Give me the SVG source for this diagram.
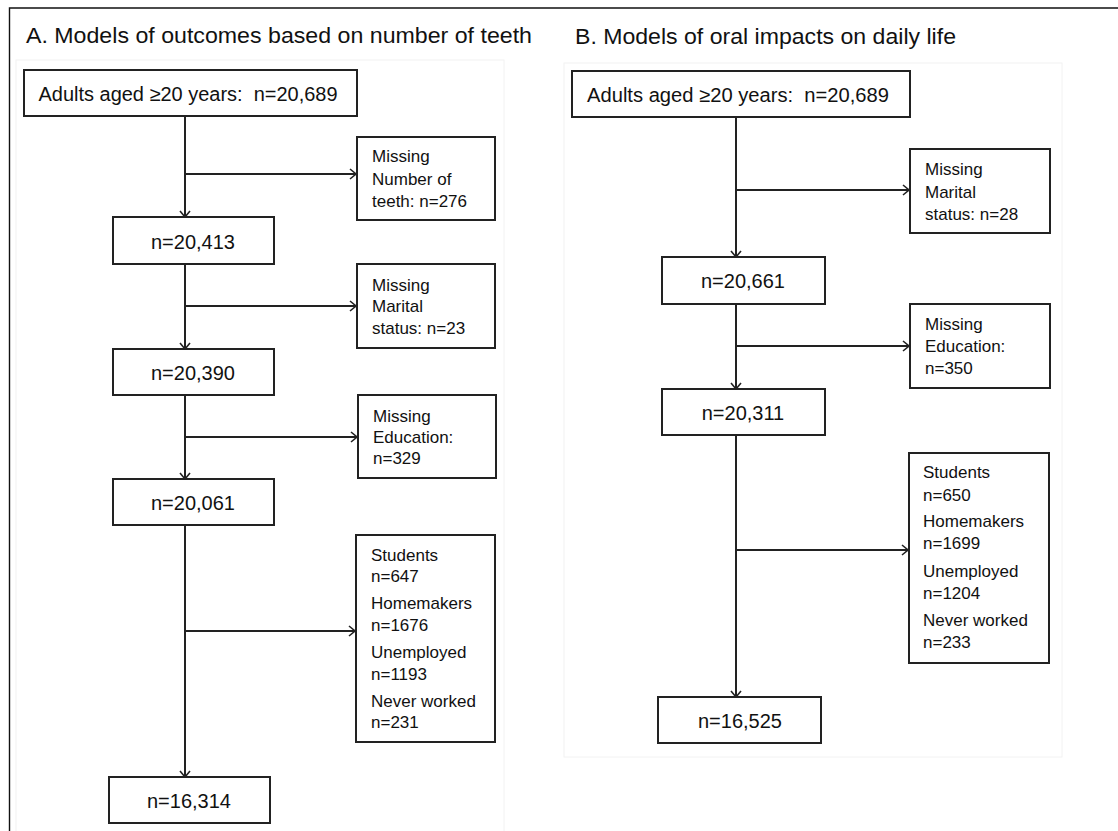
<svg xmlns="http://www.w3.org/2000/svg" width="1118" height="831" viewBox="0 0 1118 831">
<style>
text{font-family:"Liberation Sans",Arial,sans-serif;fill:#111}
.title{font-size:22px}
.big{font-size:20px}
.mid{font-size:20px;text-anchor:middle}
.sm{font-size:17px}
.box{fill:#fff;stroke:#222;stroke-width:2}
.edge{fill:none;stroke:#222;stroke-width:2}
.panel{fill:#fff;stroke:#f2f2f2;stroke-width:1}
</style>
<defs>
<marker id="arr" viewBox="-8 -6 9 12" refX="0" refY="0" markerWidth="9" markerHeight="12" markerUnits="userSpaceOnUse" orient="auto">
<path d="M-6,-5 L0,0 L-6,5" fill="none" stroke="#222" stroke-width="1.6"/>
</marker>
</defs>
<rect width="1118" height="831" fill="#fff"/>
<path d="M9.5,831 V8 H1118" fill="none" stroke="#111" stroke-width="1.4"/>
<rect class="panel" x="16" y="60" width="488" height="780"/>
<rect class="panel" x="564" y="63" width="498" height="694"/>
<text class="title" x="26" y="43" textLength="506" lengthAdjust="spacingAndGlyphs">A. Models of outcomes based on number of teeth</text>
<text class="title" x="575" y="44" textLength="381" lengthAdjust="spacingAndGlyphs">B. Models of oral impacts on daily life</text>

<g id="connectors">
<line class="edge" x1="185" y1="116" x2="185" y2="217" marker-end="url(#arr)"/>
<line class="edge" x1="185" y1="174" x2="356" y2="174" marker-end="url(#arr)"/>
<line class="edge" x1="185" y1="264" x2="185" y2="349" marker-end="url(#arr)"/>
<line class="edge" x1="185" y1="306" x2="356" y2="306" marker-end="url(#arr)"/>
<line class="edge" x1="185" y1="395" x2="185" y2="479" marker-end="url(#arr)"/>
<line class="edge" x1="185" y1="437" x2="357" y2="437" marker-end="url(#arr)"/>
<line class="edge" x1="185" y1="525" x2="185" y2="777" marker-end="url(#arr)"/>
<line class="edge" x1="185" y1="631" x2="355" y2="631" marker-end="url(#arr)"/>
<line class="edge" x1="736" y1="117" x2="736" y2="257" marker-end="url(#arr)"/>
<line class="edge" x1="736" y1="190" x2="909" y2="190" marker-end="url(#arr)"/>
<line class="edge" x1="736" y1="304" x2="736" y2="389" marker-end="url(#arr)"/>
<line class="edge" x1="736" y1="346" x2="909" y2="346" marker-end="url(#arr)"/>
<line class="edge" x1="736" y1="435" x2="736" y2="697" marker-end="url(#arr)"/>
<line class="edge" x1="736" y1="550" x2="908" y2="550" marker-end="url(#arr)"/>
</g>

<g id="a1"><rect class="box" x="24" y="70" width="333" height="46"/><text class="big" x="38.5" y="100.5" textLength="299" lengthAdjust="spacingAndGlyphs">Adults aged ≥20 years: &#160;n=20,689</text></g>
<g id="a_miss_teeth"><rect class="box" x="357" y="137" width="138" height="83"/><text class="sm" x="372" y="162">Missing</text><text class="sm" x="372" y="185">Number of</text><text class="sm" x="372" y="207">teeth: n=276</text></g>
<g id="a2"><rect class="box" x="113" y="217" width="161" height="47"/><text class="mid" x="193" y="249">n=20,413</text></g>
<g id="a_miss_marital"><rect class="box" x="357" y="264" width="138" height="84"/><text class="sm" x="372" y="291">Missing</text><text class="sm" x="372" y="312">Marital</text><text class="sm" x="372" y="334">status: n=23</text></g>
<g id="a3"><rect class="box" x="113" y="349" width="161" height="46"/><text class="mid" x="193" y="380">n=20,390</text></g>
<g id="a_miss_edu"><rect class="box" x="358" y="395" width="138" height="83"/><text class="sm" x="373" y="422">Missing</text><text class="sm" x="373" y="443">Education:</text><text class="sm" x="373" y="464">n=329</text></g>
<g id="a4"><rect class="box" x="113" y="479" width="161" height="46"/><text class="mid" x="193" y="510">n=20,061</text></g>
<g id="a_excl"><rect class="box" x="356" y="535" width="139" height="207"/><text class="sm" x="371" y="561">Students</text><text class="sm" x="371" y="582">n=647</text><text class="sm" x="371" y="609">Homemakers</text><text class="sm" x="371" y="631">n=1676</text><text class="sm" x="371" y="658">Unemployed</text><text class="sm" x="371" y="680">n=1193</text><text class="sm" x="371" y="707">Never worked</text><text class="sm" x="371" y="728">n=231</text></g>
<g id="a5"><rect class="box" x="109" y="777" width="161" height="46"/><text class="mid" x="189" y="808">n=16,314</text></g>

<g id="b1"><rect class="box" x="572" y="71" width="338" height="46"/><text class="big" x="587" y="102" textLength="302" lengthAdjust="spacingAndGlyphs">Adults aged ≥20 years: &#160;n=20,689</text></g>
<g id="b_miss_marital"><rect class="box" x="910" y="149" width="140" height="84"/><text class="sm" x="925" y="175">Missing</text><text class="sm" x="925" y="198">Marital</text><text class="sm" x="925" y="220">status: n=28</text></g>
<g id="b2"><rect class="box" x="662" y="257" width="163" height="47"/><text class="mid" x="743" y="288">n=20,661</text></g>
<g id="b_miss_edu"><rect class="box" x="910" y="304" width="140" height="84"/><text class="sm" x="925" y="330">Missing</text><text class="sm" x="925" y="352">Education:</text><text class="sm" x="925" y="374">n=350</text></g>
<g id="b3"><rect class="box" x="662" y="389" width="163" height="46"/><text class="mid" x="743" y="420">n=20,311</text></g>
<g id="b_excl"><rect class="box" x="909" y="453" width="140" height="210"/><text class="sm" x="923" y="478">Students</text><text class="sm" x="923" y="501">n=650</text><text class="sm" x="923" y="527">Homemakers</text><text class="sm" x="923" y="549">n=1699</text><text class="sm" x="923" y="577">Unemployed</text><text class="sm" x="923" y="599">n=1204</text><text class="sm" x="923" y="626">Never worked</text><text class="sm" x="923" y="648">n=233</text></g>
<g id="b4"><rect class="box" x="658" y="697" width="163" height="46"/><text class="mid" x="740" y="728">n=16,525</text></g>
</svg>
